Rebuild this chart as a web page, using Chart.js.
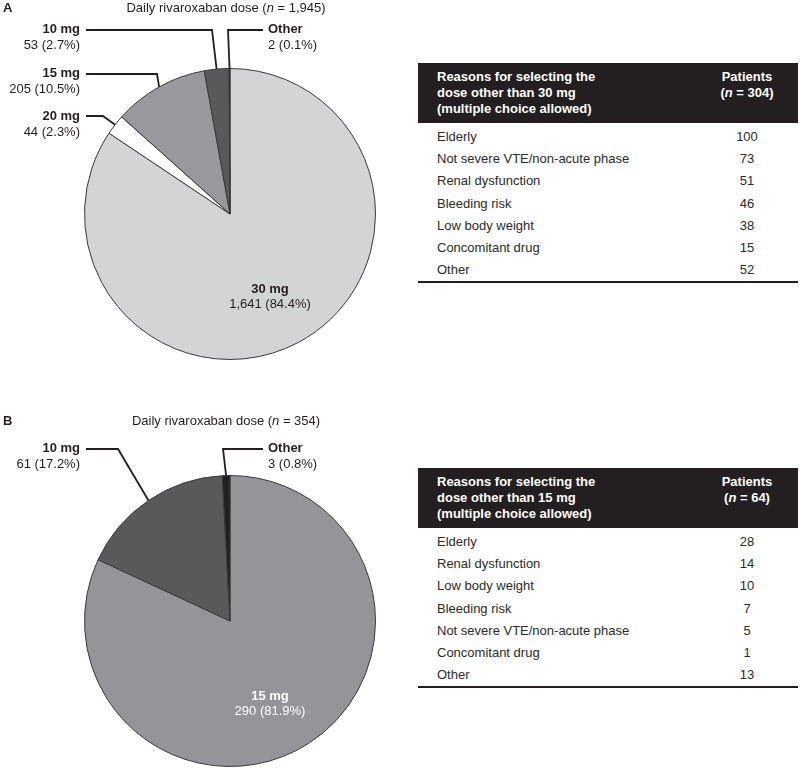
<!DOCTYPE html>
<html>
<head>
<meta charset="utf-8">
<script src="https://cdn.jsdelivr.net/npm/chart.js@4"></script>
<style>
body { margin: 0; background: #fff; font-family: "Liberation Sans", Arial, sans-serif; }
#wrap { position: relative; width: 800px; height: 768px; overflow: hidden; }
#wrap canvas { position: absolute; left: 0; }
.tbl { position: absolute; left: 418px; width: 380px; color: #2b2b2b; font-size: 13px; }
.hd { background: #231f20; color: #fff; font-weight: bold; height: 60px; position: relative; line-height: 16px; }
.hd .c1 { position: absolute; left: 19px; top: 6px; }
.hd .c2 { position: absolute; left: 289px; width: 80px; top: 6px; text-align: center; }
.body { padding-top: 3px; border-bottom: 2px solid #231f20; }
.row { height: 22.2px; line-height: 22px; position: relative; }
.row .c1 { position: absolute; left: 19px; }
.row .c2 { position: absolute; left: 289px; width: 80px; text-align: center; }
</style>
</head>
<body>
<div id="wrap">
  <canvas id="pieA" width="410" height="400" style="top:0"></canvas>
  <canvas id="pieB" width="410" height="368" style="top:400px"></canvas>
  <div class="tbl" id="tblA" style="top:63px"></div>
  <div class="tbl" id="tblB" style="top:468px"></div>
</div>
<script>
// panel A: all patients
var dosesA = ['30 mg', '20 mg', '15 mg', '10 mg', 'Other'];
var countsA = [1641, 44, 205, 53, 2];
var reasonsA = ['Elderly', 'Not severe VTE/non-acute phase', 'Renal dysfunction', 'Bleeding risk',
                'Low body weight', 'Concomitant drug', 'Other'];
var reasonCountsA = [100, 73, 51, 46, 38, 15, 52];

// panel B
var dosesB = ['15 mg', '10 mg', 'Other'];
var countsB = [290, 61, 3];
var reasonsB = ['Elderly', 'Renal dysfunction', 'Low body weight', 'Bleeding risk',
                'Not severe VTE/non-acute phase', 'Concomitant drug', 'Other'];
var reasonCountsB = [28, 14, 10, 7, 5, 1, 13];

var FONT = '"Liberation Sans", Arial, sans-serif';
var INK = '#231f20';

function sum(a) { return a.reduce(function (s, v) { return s + v; }, 0); }
function fmt(v) { return v.toLocaleString('en-US'); }
function pct(v, tot) { return (v / tot * 100).toFixed(1) + '%'; }

function drawRuns(ctx, runs, x, y) {
    // centred text made of runs with different fonts
    var w = 0;
    runs.forEach(function (r) { ctx.font = r.f; w += ctx.measureText(r.t).width; });
    var cx = x - w / 2;
    ctx.textAlign = 'left';
    runs.forEach(function (r) {
        ctx.font = r.f;
        ctx.fillText(r.t, cx, y);
        cx += ctx.measureText(r.t).width;
    });
}

function makeCallouts(cfg) {
    return {
        id: 'callouts',
        afterDraw: function (chart) {
            var ctx = chart.ctx;
            var labels = chart.data.labels;
            var vals = chart.data.datasets[0].data;
            var tot = sum(vals);
            var meta = chart.getDatasetMeta(0);
            ctx.save();
            ctx.textBaseline = 'middle';
            ctx.fillStyle = INK;

            // panel letter + title
            ctx.font = 'bold 13px ' + FONT;
            ctx.textAlign = 'left';
            ctx.fillText(cfg.letter, 3, cfg.titleY);
            var reg = '13px ' + FONT;
            drawRuns(ctx, [
                { t: 'Daily rivaroxaban dose (', f: reg },
                { t: 'n', f: 'italic ' + reg },
                { t: ' = ' + fmt(tot) + ')', f: reg }
            ], cfg.titleX, cfg.titleY);

            // outside labels with leader lines
            cfg.outside.forEach(function (c) {
                var el = meta.data[c.i];
                var mid = (el.startAngle + el.endAngle) / 2;
                var ex = el.x + Math.cos(mid) * el.outerRadius;
                var ey = el.y + Math.sin(mid) * el.outerRadius;
                ctx.strokeStyle = INK;
                ctx.lineWidth = 1.8;
                ctx.beginPath();
                ctx.moveTo(c.path[0][0], c.path[0][1]);
                for (var k = 1; k < c.path.length; k++) ctx.lineTo(c.path[k][0], c.path[k][1]);
                ctx.lineTo(ex, ey);
                ctx.stroke();

                ctx.fillStyle = INK;
                ctx.textAlign = c.align;
                ctx.font = 'bold 13px ' + FONT;
                ctx.fillText(labels[c.i], c.tx, c.ty);
                ctx.font = '13px ' + FONT;
                ctx.fillText(fmt(vals[c.i]) + ' (' + pct(vals[c.i], tot) + ')', c.tx, c.ty + 16);
            });

            // label inside the big slice
            var ins = cfg.inside;
            ctx.fillStyle = ins.color;
            ctx.textAlign = 'center';
            ctx.font = 'bold 13px ' + FONT;
            ctx.fillText(labels[ins.i], ins.x, ins.y);
            ctx.font = '13px ' + FONT;
            ctx.fillText(fmt(vals[ins.i]) + ' (' + pct(vals[ins.i], tot) + ')', ins.x, ins.y + 15);
            ctx.restore();
        }
    };
}

function pie(id, labels, data, colors, padding, cfg) {
    return new Chart(document.getElementById(id), {
        type: 'pie',
        data: {
            labels: labels,
            datasets: [{
                data: data,
                backgroundColor: colors,
                borderColor: '#3a3a3a',
                borderWidth: 1
            }]
        },
        options: {
            responsive: false,
            animation: false,
            layout: { padding: padding },
            plugins: { legend: { display: false }, tooltip: { enabled: false } }
        },
        plugins: [makeCallouts(cfg)]
    });
}

pie('pieA', dosesA, countsA, ['#d3d4d6', '#ffffff', '#98999c', '#58595b', INK],
    { left: 84, right: 34, top: 68, bottom: 40 },
    {
        letter: 'A', titleX: 226, titleY: 8,
        outside: [
            { i: 3, align: 'right', tx: 80, ty: 29, path: [[86, 30], [212, 30]] },
            { i: 4, align: 'left', tx: 268, ty: 29, path: [[263, 30], [228, 30]] },
            { i: 2, align: 'right', tx: 80, ty: 73, path: [[86, 74], [157, 74]] },
            { i: 1, align: 'right', tx: 80, ty: 116, path: [[86, 116], [103, 116]] }
        ],
        inside: { i: 0, x: 270, y: 289, color: INK }
    });

pie('pieB', dosesB, countsB, ['#939598', '#58595b', INK],
    { left: 84, right: 34, top: 75, bottom: 1 },
    {
        letter: 'B', titleX: 226, titleY: 21,
        outside: [
            { i: 1, align: 'right', tx: 80, ty: 48, path: [[86, 49], [118, 49]] },
            { i: 2, align: 'left', tx: 268, ty: 48, path: [[263, 49], [223, 49]] }
        ],
        inside: { i: 0, x: 270, y: 296, color: '#ffffff' }
    });

function buildTable(id, dose, n, reasons, counts) {
    var html = '<div class="hd"><div class="c1">Reasons for selecting the<br>dose other than ' + dose +
        '<br>(multiple choice allowed)</div><div class="c2">Patients<br>(<i>n</i> = ' + n +
        ')</div></div><div class="body">';
    for (var i = 0; i < reasons.length; i++) {
        html += '<div class="row"><span class="c1">' + reasons[i] + '</span><span class="c2">' +
            counts[i] + '</span></div>';
    }
    html += '</div>';
    document.getElementById(id).innerHTML = html;
}

// n = patients not on the standard dose
buildTable('tblA', '30 mg', sum(countsA) - countsA[0], reasonsA, reasonCountsA);
buildTable('tblB', '15 mg', sum(countsB) - countsB[0], reasonsB, reasonCountsB);
</script>
</body>
</html>
